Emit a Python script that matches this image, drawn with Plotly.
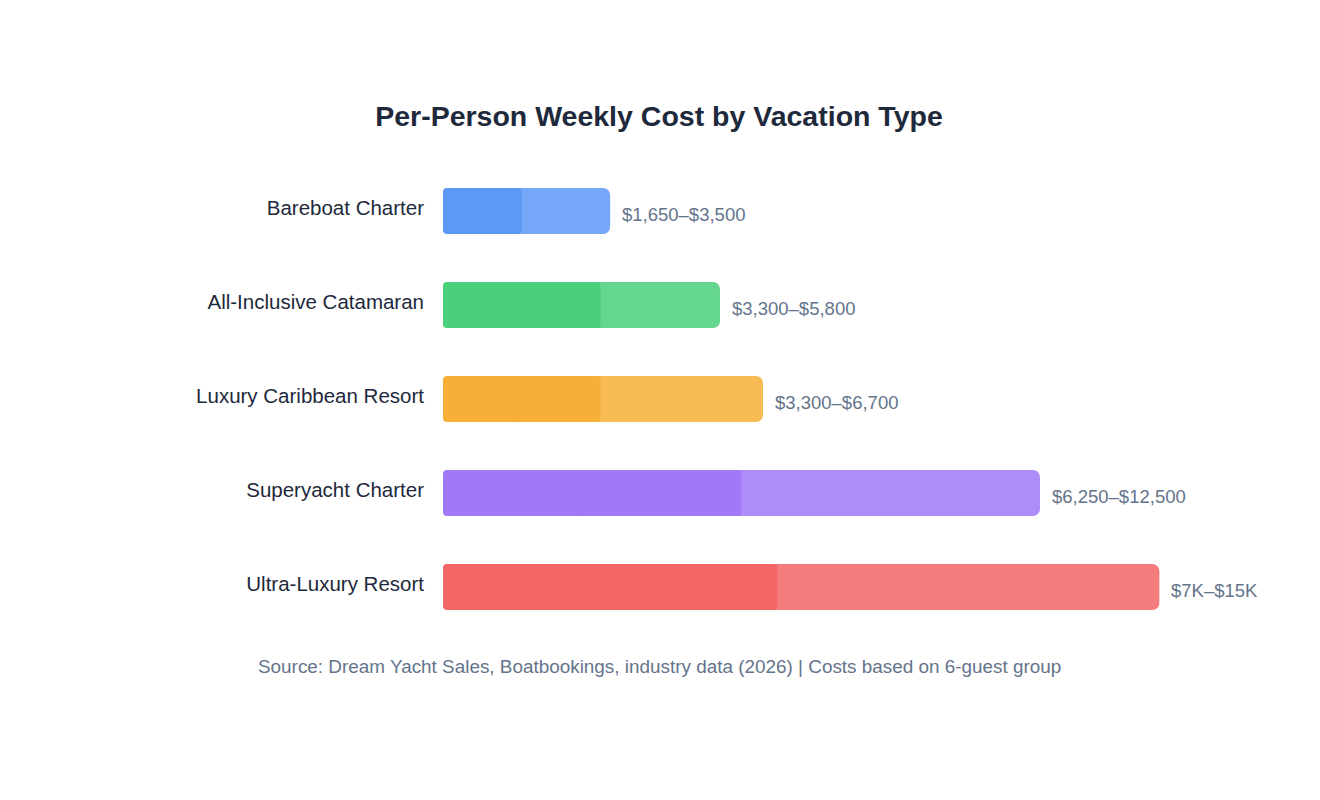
import plotly.graph_objects as go

categories = ["Bareboat Charter", "All-Inclusive Catamaran", "Luxury Caribbean Resort",
              "Superyacht Charter", "Ultra-Luxury Resort"]
min_cost = [1650, 3300, 3300, 6250, 7000]
max_cost = [3500, 5800, 6700, 12500, 15000]
range_labels = ["$1,650–$3,500", "$3,300–$5,800", "$3,300–$6,700", "$6,250–$12,500", "$7K–$15K"]
max_colors = ["#76A7F9", "#64D68E", "#F8BB54", "#AE8DF9", "#F47C7C"]
min_colors = ["#5B99F5", "#4ACF7B", "#F7AF37", "#A079F7", "#F26666"]

FONT = "Liberation Sans, Arial, Helvetica, sans-serif"
PLOT_H = 470
BAR_PX = 46

fig = go.Figure()


def rounded_bar(values, colors, radius):
    # left piece: drawn from the middle back to zero, so its rounded end sits at zero
    fig.add_trace(go.Bar(y=categories, x=[-v * 0.55 for v in values], base=[v * 0.55 for v in values],
                         orientation="h",
                         marker=dict(color=colors, line=dict(width=0), cornerradius=radius),
                         hoverinfo="skip", showlegend=False))
    # right piece: from the middle out to the value, rounded at the value
    fig.add_trace(go.Bar(y=categories, x=[v * 0.55 for v in values], base=[v * 0.45 for v in values],
                         orientation="h",
                         marker=dict(color=colors, line=dict(width=0), cornerradius=radius),
                         hoverinfo="skip", showlegend=False))


rounded_bar(max_cost, max_colors, 7)
rounded_bar(min_cost, min_colors, 4)

for cat, mx, lab in zip(categories, max_cost, range_labels):
    fig.add_annotation(x=mx, y=cat, text=lab, showarrow=False, xanchor="left",
                       yanchor="middle", xshift=10, yshift=-3,
                       font=dict(family=FONT, size=18.5, color="#64748B"))

fig.add_annotation(text="Source: Dream Yacht Sales, Boatbookings, industry data (2026) | Costs based on 6-guest group",
                   xref="paper", yref="paper", x=(651.5 - 435) / 788, y=-0.070,
                   xanchor="center", yanchor="middle", showarrow=False,
                   font=dict(family=FONT, size=18.9, color="#64748B"))

fig.update_layout(
    width=1320, height=800,
    barmode="overlay", bargap=1 - BAR_PX / (PLOT_H / len(categories)),
    paper_bgcolor="white", plot_bgcolor="white",
    margin=dict(l=435, r=97, t=156, b=800 - 156 - PLOT_H),
    title=dict(text="<b>Per-Person Weekly Cost by Vacation Type</b>", x=651 / 1320, xref="container",
               xanchor="center", y=1 - 108 / 800, yanchor="middle",
               font=dict(family=FONT, size=28.5, color="#1E293B")),
    xaxis=dict(range=[0, 16500], visible=False, fixedrange=True),
    yaxis=dict(categoryorder="array", categoryarray=categories, range=[4.5, -0.5],
               showgrid=False, zeroline=False, showline=False, ticks="",
               ticklabelstandoff=18, ticklabelshift=3,
               tickfont=dict(family=FONT, size=20.5, color="#1E293B")),
    font=dict(family=FONT),
)

fig.write_html("out.html")
